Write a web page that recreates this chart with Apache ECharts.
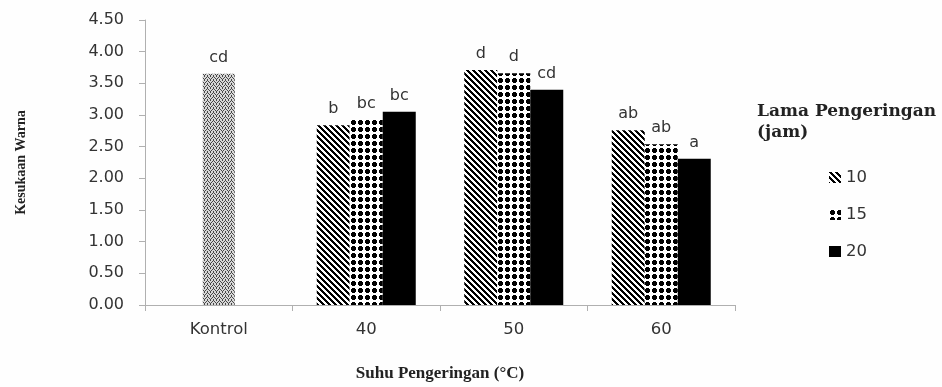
<!DOCTYPE html>
<html><head><meta charset="utf-8">
<script src="https://cdn.jsdelivr.net/npm/echarts@6/dist/echarts.min.js"></script>
<style>html,body{margin:0;padding:0;background:#fefefe}#c{width:942px;height:387px}</style>
</head><body><div id="c"></div>
<script>
const categories = ['Kontrol', '40', '50', '60'];
const yTicks = [0, 0.5, 1, 1.5, 2, 2.5, 3, 3.5, 4, 4.5];
const seriesNames = ['10', '15', '20'];
const kontrolValues = [3.65, null, null, null];
const values10 = [null, 2.84, 3.71, 2.76];
const values15 = [null, 2.92, 3.66, 2.54];
const values20 = [null, 3.05, 3.40, 2.31];
const kontrolLetters = ['cd', '', '', ''];
const letters10 = ['', 'b', 'd', 'ab'];
const letters15 = ['', 'bc', 'd', 'ab'];
const letters20 = ['', 'bc', 'cd', 'a'];

function makePattern(w, h, fn) {
  const cv = document.createElement('canvas');
  cv.width = w; cv.height = h;
  const ctx = cv.getContext('2d');
  const img = ctx.createImageData(w, h);
  for (let y = 0; y < h; y++) for (let x = 0; x < w; x++) {
    const c = fn(x, y);
    const i = (y * w + x) * 4;
    img.data[i] = c[0]; img.data[i+1] = c[1]; img.data[i+2] = c[2]; img.data[i+3] = 255;
  }
  ctx.putImageData(img, 0, 0);
  return { image: cv, repeat: 'repeat' };
}
const BLK = [0,0,0], WHT = [255,255,255];
const diag = makePattern(6, 6, (x, y) => (((x - y) % 6 + 6) % 6) < 3 ? BLK : WHT);
const dots = makePattern(7, 7, (x, y) => {
  const dx = Math.abs(x - 3), dy = Math.abs(y - 3);
  return (dx + dy <= 3 && dx <= 2 && dy <= 2) ? BLK : WHT;
});
const herring = makePattern(6, 4, (x, y) => {
  const on = x < 3 ? ((x + y) % 3 === 0) : ((x - y + 12) % 3 === 0);
  return on ? [70,70,70] : [215,215,215];
});

const SANS = 'DejaVu Sans';
const labelStyle = { show: true, position: 'top', distance: 8, color: '#333', fontFamily: SANS, fontSize: 16 };
function mk(letters) {
  return Object.assign({}, labelStyle, { formatter: p => letters[p.dataIndex] });
}

const chart = echarts.init(document.getElementById('c'), null, { renderer: 'canvas' });
chart.setOption({
  backgroundColor: '#fefefe',
  animation: false,
  title: {
    text: 'Lama Pengeringan\n(jam)', left: 752, top: 96,
    textStyle: { fontFamily: 'DejaVu Serif', fontWeight: 'bold', fontSize: 17, lineHeight: 21, color: '#222' }
  },
  legend: {
    data: seriesNames, orient: 'vertical', left: 824, top: 164,
    itemWidth: 12, itemHeight: 11, itemGap: 20, icon: 'rect',
    textStyle: { fontFamily: SANS, fontSize: 16.5, color: '#333' }
  },
  grid: { left: 145, right: 207, top: 20, bottom: 80 },
  xAxis: [{
    type: 'category', data: categories,
    name: 'Suhu Pengeringan (°C)', nameLocation: 'middle', nameGap: 60,
    nameTextStyle: { fontFamily: 'Liberation Serif', fontWeight: 'bold', fontSize: 17, color: '#222' },
    axisLine: { lineStyle: { color: '#b0b0b0', width: 1 } },
    axisTick: { show: true, length: 6, lineStyle: { color: '#b0b0b0' } },
    axisLabel: { margin: 16, fontFamily: SANS, fontSize: 16.5, color: '#333' }
  }, {
    type: 'category', data: categories, show: false
  }],
  yAxis: {
    type: 'value', min: 0, max: 4.5, interval: 0.5,
    name: 'Kesukaan Warna', nameLocation: 'middle', nameRotate: 90, nameGap: 117,
    nameTextStyle: { fontFamily: 'Liberation Serif', fontWeight: 'bold', fontSize: 14, color: '#222' },
    axisLine: { show: true, lineStyle: { color: '#b0b0b0' } },
    axisTick: { show: true, length: 6, lineStyle: { color: '#b0b0b0' } },
    splitLine: { show: false },
    axisLabel: { margin: 21, fontFamily: SANS, fontSize: 16, color: '#333',
      formatter: v => yTicks.includes(v) ? v.toFixed(2) : '' }
  },
  series: [
    { name: 'Kontrol', type: 'bar', xAxisIndex: 1, data: kontrolValues, barWidth: 32,
      itemStyle: { color: herring }, label: mk(kontrolLetters) },
    { name: seriesNames[0], type: 'bar', data: values10, barWidth: 33, barGap: '0%',
      itemStyle: { color: diag }, label: mk(letters10) },
    { name: seriesNames[1], type: 'bar', data: values15, barWidth: 33, barGap: '0%',
      itemStyle: { color: dots }, label: mk(letters15) },
    { name: seriesNames[2], type: 'bar', data: values20, barWidth: 33, barGap: '0%',
      itemStyle: { color: '#000' }, label: mk(letters20) }
  ]
});
</script></body></html>
